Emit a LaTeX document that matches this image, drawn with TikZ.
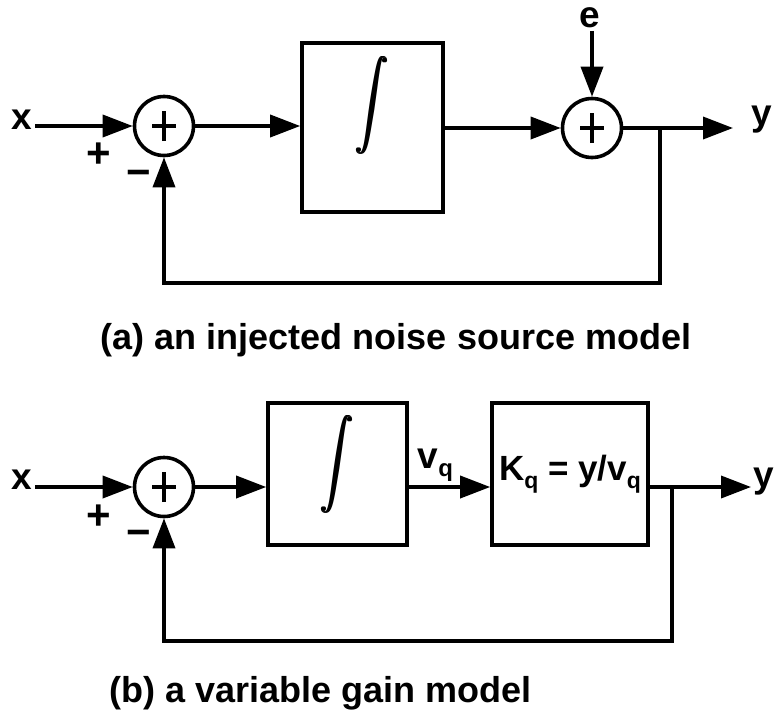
\documentclass[tikz,border=0pt]{standalone}
\usepackage{fontspec}
\setmainfont{Liberation Sans}
\usetikzlibrary{arrows.meta,calc}
\newcommand{\intglyph}{\scalebox{3.3}[4.4]{$\displaystyle\int$}}
\newcommand{\bolderint}{\rlap{\intglyph}\kern0.9pt\rlap{\intglyph}\kern0.9pt\intglyph}
\begin{document}
\begin{tikzpicture}[x=1pt,y=-1pt,
  line width=3.6pt,
  arr/.style={-{Triangle[length=30pt,width=22pt]}},
  sumnode/.style={circle,draw,minimum size=59pt,inner sep=0pt,
    path picture={\draw[line width=3.6pt]
      ([xshift=-12pt]path picture bounding box.center) -- ++(24pt,0pt)
      ([yshift=-15pt]path picture bounding box.center) -- ++(0pt,30pt);}},
  blk/.style={draw,rectangle,inner sep=0pt},
  lbl/.style={font=\fontsize{37}{37}\selectfont\bfseries,inner sep=1pt},
  pm/.style={font=\fontsize{42}{42}\selectfont\bfseries,inner sep=0pt},
  captxt/.style={font=\fontsize{36}{36}\selectfont\bfseries,inner sep=0pt},
  intg/.style={inner sep=0pt}]
\fill[white] (0,0) rectangle (775,712);
\useasboundingbox (0,0) rectangle (775,712);

% ---------- (a) ----------
\node[sumnode] (s1) at (164,126) {};
\node[blk,minimum width=141pt,minimum height=169pt] (b1) at (372.5,127.5) {};
\node[intg] (i1) at (372,105) {\bolderint};
\node[sumnode] (s2) at (592,128) {};
\node[lbl] (xa) at (22,120) {x};
\node[lbl] (ea) at (590,18) {e};
\node[lbl] (ya) at (762,120) {y};
\node[pm] (pa) at (99,155) {+};
\node[pm] (ma) at (139,178) {−};
\coordinate (o1) at (733,128);
\coordinate (br1) at (660,128);
\coordinate (fb1) at (660,283);

\draw[arr] (xa.east |- s1) -- (s1);
\draw[arr] (s1) -- (s1 -| b1.west);
\draw[arr] (b1.east |- s2) -- (s2);
\draw[arr] (ea.south -| s2) -- (s2);
\draw[arr] (s2) -- (o1);
\draw[arr] (br1) -- (fb1) -| (s1);

\node[captxt] (ca) at (396,340) {(a) an injected noise source model};

% ---------- (b) ----------
\node[sumnode] (s3) at (164,487) {};
\node[blk,minimum width=139pt,minimum height=142pt] (b2) at (337.5,474) {};
\node[intg] (i2) at (337,464) {\bolderint};
\node[blk,minimum width=156pt,minimum height=142pt,
  font=\fontsize{35}{35}\selectfont\bfseries] (bk) at (570,474)
  {K\raisebox{-8pt}{\fontsize{23}{23}\selectfont q} = y/v\raisebox{-8pt}{\fontsize{23}{23}\selectfont q}};
\node[lbl,anchor=base west] (vq) at (415,468) {v\raisebox{-8pt}{\fontsize{24}{24}\selectfont q}};
\node[lbl] (xb) at (22,480) {x};
\node[lbl] (yb) at (764,482) {y};
\node[pm] (pb) at (99,517) {+};
\node[pm] (mb) at (139,538) {−};
\coordinate (o2) at (751,487);
\coordinate (br2) at (672,487);
\coordinate (fb2) at (672,641);

\draw[arr] (xb.east |- s3) -- (s3);
\draw[arr] (s3) -- (s3 -| b2.west);
\draw[arr] (b2.east |- s3) -- (bk.west |- s3);
\draw[arr] (bk.east |- s3) -- (o2);
\draw[arr] (br2) -- (fb2) -| (s3);

\node[captxt,anchor=west] (cb) at (108,693) {(b) a variable gain model};
\end{tikzpicture}
\end{document}
